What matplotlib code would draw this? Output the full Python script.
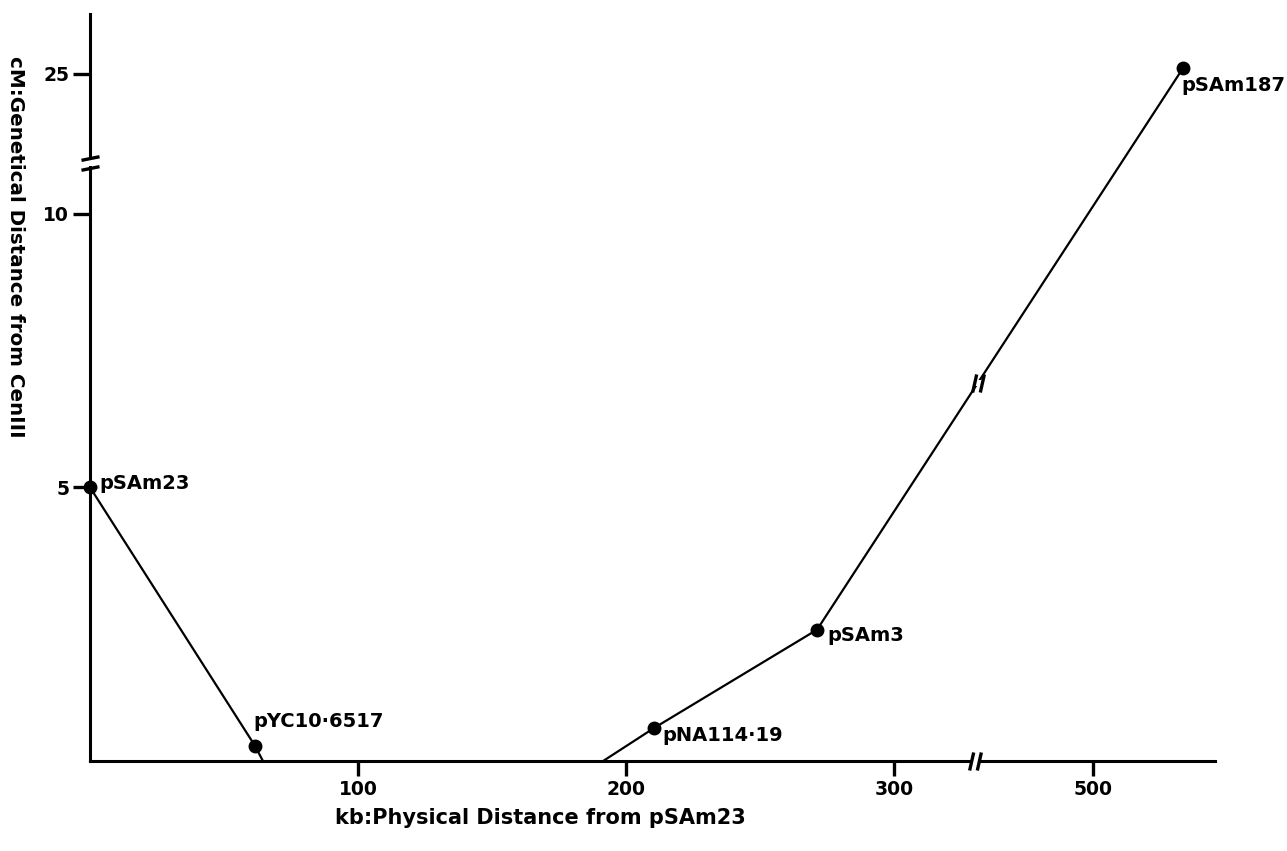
import numpy as np
import matplotlib.pyplot as plt
from matplotlib.path import Path

plt.rcParams["font.family"] = ["DejaVu Sans"]
plt.rcParams["font.weight"] = "bold"

# probes along the chromosome
probe_names = ["pSAm23", "pYC10·6517", "pNA114·19", "pSAm3", "pSAm187"]
probe_kb = [0, 61.5, 210.4, 271.3, 533.5]
probe_cm = [5.0, 0.28, 0.60, 2.40, 25.1]

# drawn segments (run down to the x axis)
left_kb = [0, 61.5, 64.5]
left_cm = [5.0, 0.28, 0.0]
right_kb = [191.5, 210.4, 271.3, 533.5]
right_cm = [0.0, 0.60, 2.40, 25.1]

x_ticks = [100, 200, 300, 500]
y_ticks = [5, 10, 25]

# broken axes: piecewise linear scales
XK = [-100, 330, 456, 1000]
XS = [-100, 330, 330.3, 874.3]
YK = [-10, 10.93, 23.39, 40]
YS = [-10, 10.93, 10.95, 27.56]


def fx(v):
    return np.interp(v, XK, XS)


def ix(v):
    return np.interp(v, XS, XK)


def fy(v):
    return np.interp(v, YK, YS)


def iy(v):
    return np.interp(v, YS, YK)


# "//" break marks
steep = Path([(-0.65, -1), (-0.2, 1), (0.2, -1), (0.65, 1)],
             [Path.MOVETO, Path.LINETO, Path.MOVETO, Path.LINETO])
flat = Path([(-1, -0.75), (1, -0.35), (-1, 0.35), (1, 0.75)],
            [Path.MOVETO, Path.LINETO, Path.MOVETO, Path.LINETO])


def break_mark(x, y, path, size):
    # white gap first, then the two strokes
    ax.plot([x], [y], marker="s", ms=size * 0.35, mew=0, color="white",
            linestyle="none", clip_on=False, zorder=3)
    ax.plot([x], [y], marker=path, ms=size, mew=2.4, color="black",
            linestyle="none", clip_on=False, zorder=4)


fig = plt.figure(figsize=(12.87, 8.51), dpi=100)
ax = fig.add_axes([0.070, 0.1058, 0.874, 0.878])
ax.set_xscale("function", functions=(fx, ix))
ax.set_yscale("function", functions=(fy, iy))
ax.set_xlim(0, 545.5)
ax.set_ylim(0, 26.1)

ax.plot(left_kb, left_cm, color="black", lw=1.6, clip_on=False)
ax.plot(right_kb, right_cm, color="black", lw=1.6, clip_on=False)
ax.plot(probe_kb, probe_cm, "o", color="black", ms=9, clip_on=False)

offsets = [(9, 4), (-2, 24), (9, -7), (10, -6), (-1, -17)]
for name, x, y, off in zip(probe_names, probe_kb, probe_cm, offsets):
    ax.annotate(name, (x, y), xytext=off, textcoords="offset pixels",
                ha="left", va="center", fontsize=14, fontweight="bold")

# break on the line pSAm3 -> pSAm187
t = 0.44
sx = fx(probe_kb[3]) + t * (fx(probe_kb[4]) - fx(probe_kb[3]))
sy = fy(probe_cm[3]) + t * (fy(probe_cm[4]) - fy(probe_cm[3]))
break_mark(ix(sx), iy(sy), steep, 13)
# axis breaks
break_mark(393, 0, steep, 13)
break_mark(0, 17, flat, 13)

ax.spines["top"].set_visible(False)
ax.spines["right"].set_visible(False)
ax.spines["left"].set_linewidth(2.2)
ax.spines["bottom"].set_linewidth(2.2)
ax.set_xticks(x_ticks)
ax.set_yticks(y_ticks)
ax.minorticks_off()
ax.tick_params(direction="out", width=2.4, labelsize=13.5)
ax.tick_params(axis="x", length=11, pad=3)
ax.tick_params(axis="y", length=12, pad=3)
for lab in ax.get_xticklabels() + ax.get_yticklabels():
    lab.set_fontweight("bold")

fig.text(540 / 1287, 1 - 818 / 851, "kb:Physical Distance from pSAm23",
         ha="center", va="center", fontsize=15, fontweight="bold")
fig.text(15 / 1287, 1 - 247 / 851, "cM:Genetical Distance from CenIII",
         ha="center", va="center", rotation=270, fontsize=14.3,
         fontweight="bold")

fig.savefig("out.png", dpi=100)
